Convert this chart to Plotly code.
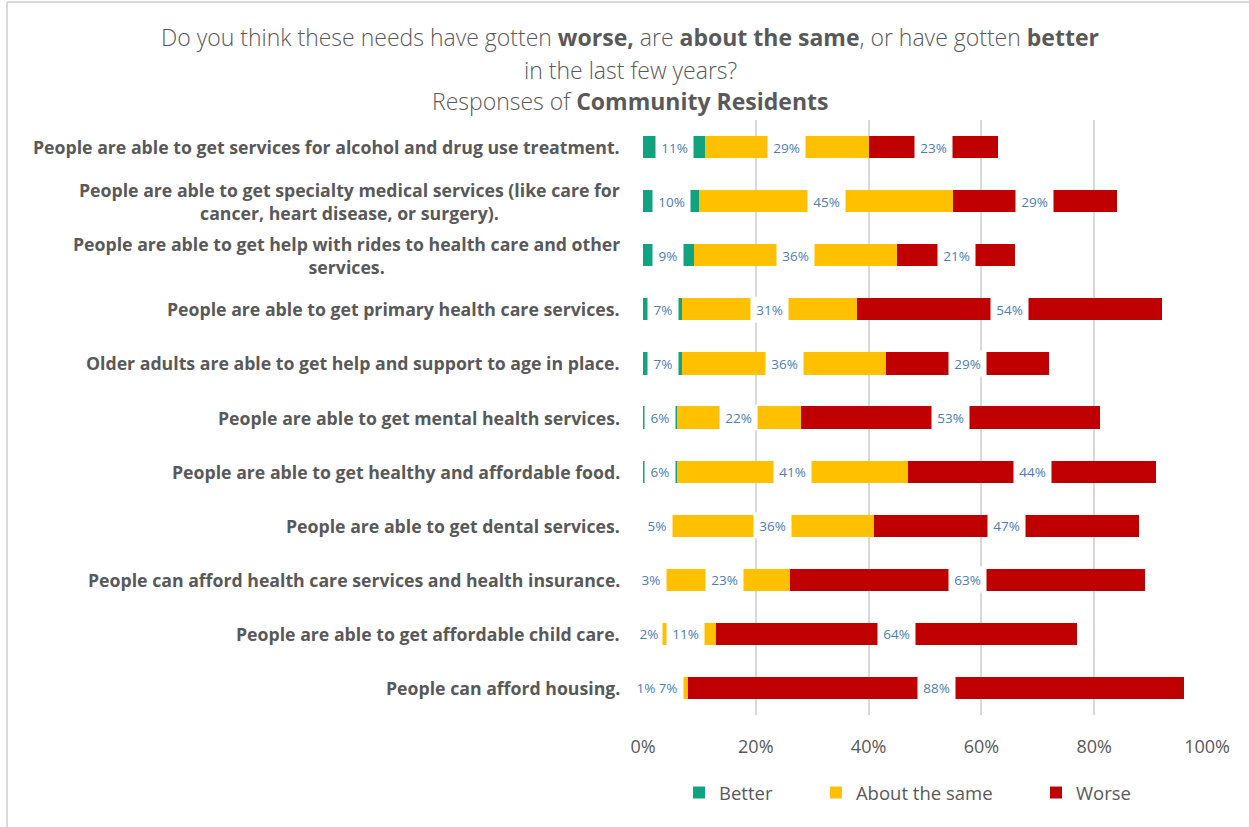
import plotly.graph_objects as go

categories = [
    "People are able to get services for alcohol and drug use treatment.",
    "People are able to get specialty medical services (like care for<br>cancer, heart disease, or surgery).",
    "People are able to get help with rides to health care and other<br>services.",
    "People are able to get primary health care services.",
    "Older adults are able to get help and support to age in place.",
    "People are able to get mental health services.",
    "People are able to get healthy and affordable food.",
    "People are able to get dental services.",
    "People can afford health care services and health insurance.",
    "People are able to get affordable child care.",
    "People can afford housing.",
]
better = [11, 10, 9, 7, 7, 6, 6, 5, 3, 2, 1]
same = [29, 45, 36, 31, 36, 22, 41, 36, 23, 11, 7]
worse = [23, 29, 21, 54, 29, 53, 44, 47, 63, 64, 88]
x_ticks = [0, 20, 40, 60, 80, 100]
x_tick_text = ["0%", "20%", "40%", "60%", "80%", "100%"]
series_names = ["Better", "About the same", "Worse"]
series_colors = ["#10A37F", "#FFC000", "#C00000"]

series = list(zip(series_names, [better, same, worse], series_colors))
legend_pad = [8, 8, 0]  # non-breaking spaces after legend names for entry spacing

ycats = [f"c{i}" for i in range(len(categories))]

fig = go.Figure()
for (name, vals, col), pad in zip(series, legend_pad):
    fig.add_trace(go.Bar(
        y=ycats, x=vals, name=name + "\u00a0" * pad, orientation="h",
        marker=dict(color=col, line=dict(width=0)),
        hovertemplate=name + ": %{x}%<extra></extra>",
    ))

GRAY = "#595959"
FONT = "Open Sans"
annotations = []
# category labels
for yc, txt in zip(ycats, categories):
    annotations.append(dict(
        xref="paper", yref="y", x=-0.037, y=yc, xanchor="right", yanchor="middle",
        text=f"<b>{txt}</b>", showarrow=False, align="center",
        font=dict(family=FONT, size=17.7, color=GRAY),
    ))
# data labels (drawn right-to-left so earlier segments stay on top)
for i, yc in enumerate(ycats):
    starts = []
    s = 0
    for name, vals, col in series:
        starts.append(s)
        s += vals[i]
    for k in reversed(range(len(series))):
        v = series[k][1][i]
        t = f"{v}%"
        annotations.append(dict(
            xref="x", yref="y", x=starts[k] + v / 2, y=yc, xanchor="center", yanchor="middle",
            text=t, showarrow=False, bgcolor="white", borderpad=0,
            width=(26 if v < 3 else 16 + 7 * len(t)), height=25,
            font=dict(family=FONT, size=13.5, color="#4A7EBB"),
        ))

# title lines
title_lines = [
    ("Do you think these needs have gotten <b>worse,</b> are <b>about the same</b>, or have gotten <b>better</b>", 37),
    ("in the last few years?", 70),
    ("Responses of <b>Community Residents</b>", 101),
]
PLOT_L, PLOT_R, PLOT_T, PLOT_B = 643, 1207, 120, 715
pw = PLOT_R - PLOT_L
ph = PLOT_B - PLOT_T
for txt, ypx in title_lines:
    annotations.append(dict(
        xref="paper", yref="paper", x=(630 - PLOT_L) / pw, y=(PLOT_B - ypx) / ph,
        xanchor="center", yanchor="middle", text=txt, showarrow=False,
        font=dict(family=FONT, size=23, color=GRAY, weight=300),
    ))

shapes = [
    dict(type="line", xref="paper", yref="paper",
         x0=(7 - PLOT_L) / pw, x1=(1249 - PLOT_L) / pw, y0=(PLOT_B - 2) / ph, y1=(PLOT_B - 2) / ph,
         line=dict(color="#D9D9D9", width=2)),
    dict(type="line", xref="paper", yref="paper",
         x0=(7 - PLOT_L) / pw, x1=(7 - PLOT_L) / pw, y0=(PLOT_B - 2) / ph, y1=(PLOT_B - 830) / ph,
         line=dict(color="#D9D9D9", width=2)),
]

fig.update_layout(
    width=1249, height=827,
    barmode="stack", bargap=0.59,
    paper_bgcolor="white", plot_bgcolor="white",
    margin=dict(l=PLOT_L, r=1249 - PLOT_R, t=PLOT_T, b=827 - PLOT_B, autoexpand=False),
    xaxis=dict(range=[0, 100], tickmode="array", tickvals=x_ticks, ticktext=x_tick_text, showgrid=True,
               gridcolor="#D9D9D9", gridwidth=1.5, zeroline=False, showline=False,
               ticks="", ticklabelstandoff=19,
               tickfont=dict(family=FONT, size=18, color=GRAY), fixedrange=True),
    yaxis=dict(categoryorder="array", categoryarray=ycats, autorange="reversed",
               showticklabels=False, showgrid=False, zeroline=False, ticks="", fixedrange=True),
    legend=dict(orientation="h", x=(679 - PLOT_L) / pw, xanchor="left", y=(PLOT_B - 793) / ph, yanchor="middle",
                font=dict(family=FONT, size=18.5, color=GRAY), traceorder="normal"),
    annotations=annotations,
    shapes=shapes,
    showlegend=True,
)

fig.write_html("out.html", config={"displayModeBar": False},
               post_script="document.body.style.margin='0';")
